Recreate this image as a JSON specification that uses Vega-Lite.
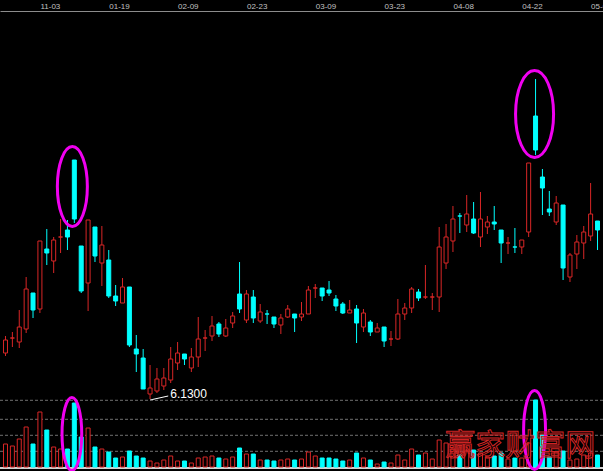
{
  "$schema": "https://vega.github.io/schema/vega-lite/v6.json",
  "width": 603,
  "height": 460,
  "autosize": "none",
  "padding": {"left": 0, "top": 11, "right": 0, "bottom": 0},
  "background": "#000000",
  "config": {
    "view": {"stroke": null},
    "axis": {"grid": false},
    "axisX": {"ticks": false, "tickSize": 0, "domainColor": "#8c8c8c", "domainWidth": 1,
              "labelColor": "#c0c0c0", "labelFont": "Liberation Sans", "labelFontSize": 8,
              "labelAlign": "left", "labelBaseline": "alphabetic", "labelPadding": 2.5,
              "labelOverlap": false, "labelBound": false, "grid": false}
  },
  "datasets": {
    "k": [
      {"i":0,"o":7.05,"h":7.39,"l":6.99,"c":7.31,"v":46,"d":"u"},
      {"i":1,"o":7.35,"h":7.47,"l":7.17,"c":7.35,"v":42,"d":"u"},
      {"i":2,"o":7.27,"h":7.91,"l":7.15,"c":7.57,"v":56,"d":"u"},
      {"i":3,"o":7.53,"h":8.57,"l":7.45,"c":8.33,"v":80,"d":"u"},
      {"i":4,"o":8.25,"h":8.25,"l":7.75,"c":7.91,"v":46,"d":"d"},
      {"i":5,"o":7.93,"h":9.29,"l":7.85,"c":9.29,"v":110,"d":"u"},
      {"i":6,"o":9.13,"h":9.53,"l":8.81,"c":9.05,"v":74,"d":"d"},
      {"i":7,"o":8.89,"h":9.37,"l":8.65,"c":9.31,"v":40,"d":"u"},
      {"i":8,"o":9.37,"h":9.73,"l":9.05,"c":9.37,"v":36,"d":"u"},
      {"i":9,"o":9.51,"h":9.71,"l":9.11,"c":9.37,"v":36,"d":"d"},
      {"i":10,"o":10.91,"h":10.91,"l":9.65,"c":9.73,"v":128,"d":"d"},
      {"i":11,"o":9.19,"h":9.19,"l":8.25,"c":8.29,"v":60,"d":"d"},
      {"i":12,"o":8.45,"h":9.71,"l":7.89,"c":9.71,"v":78,"d":"u"},
      {"i":13,"o":9.57,"h":9.57,"l":8.87,"c":8.99,"v":40,"d":"d"},
      {"i":14,"o":8.85,"h":9.59,"l":8.39,"c":9.21,"v":36,"d":"u"},
      {"i":15,"o":8.91,"h":9.11,"l":8.15,"c":8.19,"v":30,"d":"d"},
      {"i":16,"o":8.19,"h":8.41,"l":7.99,"c":8.09,"v":18,"d":"d"},
      {"i":17,"o":8.05,"h":8.55,"l":8.05,"c":8.37,"v":20,"d":"u"},
      {"i":18,"o":8.37,"h":8.37,"l":7.17,"c":7.21,"v":32,"d":"d"},
      {"i":19,"o":7.13,"h":7.41,"l":6.67,"c":7.03,"v":22,"d":"d"},
      {"i":20,"o":6.95,"h":7.13,"l":6.33,"c":6.33,"v":18,"d":"d"},
      {"i":21,"o":6.23,"h":6.81,"l":6.13,"c":6.35,"v":12,"d":"u"},
      {"i":22,"o":6.29,"h":6.75,"l":6.25,"c":6.53,"v":8,"d":"u"},
      {"i":23,"o":6.39,"h":6.75,"l":6.31,"c":6.55,"v":14,"d":"u"},
      {"i":24,"o":6.51,"h":7.17,"l":6.45,"c":6.93,"v":22,"d":"u"},
      {"i":25,"o":6.85,"h":7.27,"l":6.71,"c":7.05,"v":12,"d":"u"},
      {"i":26,"o":7.03,"h":7.03,"l":6.81,"c":6.93,"v":12,"d":"d"},
      {"i":27,"o":6.75,"h":7.15,"l":6.67,"c":6.97,"v":8,"d":"u"},
      {"i":28,"o":6.97,"h":7.77,"l":6.77,"c":7.33,"v":18,"d":"u"},
      {"i":29,"o":7.35,"h":7.51,"l":7.09,"c":7.35,"v":20,"d":"u"},
      {"i":30,"o":7.39,"h":7.79,"l":7.29,"c":7.59,"v":22,"d":"u"},
      {"i":31,"o":7.63,"h":7.67,"l":7.37,"c":7.43,"v":18,"d":"d"},
      {"i":32,"o":7.39,"h":7.73,"l":7.37,"c":7.55,"v":16,"d":"u"},
      {"i":33,"o":7.65,"h":7.87,"l":7.55,"c":7.79,"v":20,"d":"u"},
      {"i":34,"o":8.23,"h":8.87,"l":7.85,"c":7.93,"v":38,"d":"d"},
      {"i":35,"o":7.71,"h":8.31,"l":7.65,"c":8.23,"v":26,"d":"u"},
      {"i":36,"o":8.17,"h":8.31,"l":7.65,"c":7.75,"v":26,"d":"d"},
      {"i":37,"o":7.69,"h":8.03,"l":7.65,"c":7.87,"v":14,"d":"u"},
      {"i":38,"o":7.83,"h":7.91,"l":7.63,"c":7.83,"v":14,"d":"d"},
      {"i":39,"o":7.77,"h":7.77,"l":7.55,"c":7.63,"v":12,"d":"d"},
      {"i":40,"o":7.61,"h":7.83,"l":7.43,"c":7.75,"v":14,"d":"u"},
      {"i":41,"o":7.77,"h":8.01,"l":7.75,"c":7.93,"v":16,"d":"u"},
      {"i":42,"o":7.83,"h":7.83,"l":7.47,"c":7.75,"v":14,"d":"d"},
      {"i":43,"o":7.77,"h":8.07,"l":7.69,"c":7.83,"v":16,"d":"u"},
      {"i":44,"o":7.83,"h":8.39,"l":7.83,"c":8.31,"v":30,"d":"u"},
      {"i":45,"o":8.35,"h":8.43,"l":8.15,"c":8.35,"v":22,"d":"u"},
      {"i":46,"o":8.35,"h":8.35,"l":8.09,"c":8.19,"v":18,"d":"d"},
      {"i":47,"o":8.31,"h":8.49,"l":8.19,"c":8.25,"v":18,"d":"d"},
      {"i":48,"o":8.13,"h":8.21,"l":7.89,"c":7.99,"v":16,"d":"d"},
      {"i":49,"o":8.03,"h":8.07,"l":7.83,"c":7.85,"v":12,"d":"d"},
      {"i":50,"o":7.85,"h":8.11,"l":7.85,"c":7.91,"v":14,"d":"u"},
      {"i":51,"o":7.93,"h":8.01,"l":7.25,"c":7.65,"v":28,"d":"d"},
      {"i":52,"o":7.57,"h":7.93,"l":7.47,"c":7.85,"v":18,"d":"u"},
      {"i":53,"o":7.67,"h":7.71,"l":7.39,"c":7.47,"v":14,"d":"d"},
      {"i":54,"o":7.47,"h":7.65,"l":7.47,"c":7.55,"v":6,"d":"u"},
      {"i":55,"o":7.57,"h":7.57,"l":7.17,"c":7.29,"v":10,"d":"d"},
      {"i":56,"o":7.33,"h":7.49,"l":7.19,"c":7.33,"v":8,"d":"u"},
      {"i":57,"o":7.33,"h":8.13,"l":7.31,"c":7.83,"v":24,"d":"u"},
      {"i":58,"o":7.83,"h":8.05,"l":7.71,"c":7.95,"v":14,"d":"u"},
      {"i":59,"o":7.95,"h":8.37,"l":7.85,"c":8.33,"v":36,"d":"u"},
      {"i":60,"o":8.27,"h":8.33,"l":8.09,"c":8.15,"v":24,"d":"d"},
      {"i":61,"o":8.17,"h":8.81,"l":8.13,"c":8.17,"v":28,"d":"u"},
      {"i":62,"o":8.17,"h":8.25,"l":7.91,"c":8.17,"v":16,"d":"u"},
      {"i":63,"o":8.17,"h":9.57,"l":7.87,"c":9.17,"v":54,"d":"u"},
      {"i":64,"o":8.85,"h":9.63,"l":8.73,"c":9.37,"v":48,"d":"u"},
      {"i":65,"o":9.29,"h":9.99,"l":9.07,"c":9.73,"v":36,"d":"u"},
      {"i":66,"o":9.79,"h":9.85,"l":9.45,"c":9.79,"v":24,"d":"d"},
      {"i":67,"o":9.61,"h":10.21,"l":9.47,"c":9.83,"v":32,"d":"u"},
      {"i":68,"o":9.73,"h":10.07,"l":9.43,"c":9.45,"v":34,"d":"d"},
      {"i":69,"o":9.37,"h":10.27,"l":9.17,"c":9.73,"v":28,"d":"u"},
      {"i":70,"o":9.57,"h":9.79,"l":9.43,"c":9.67,"v":20,"d":"u"},
      {"i":71,"o":9.67,"h":9.99,"l":9.51,"c":9.63,"v":22,"d":"d"},
      {"i":72,"o":9.51,"h":9.51,"l":8.85,"c":9.25,"v":28,"d":"d"},
      {"i":73,"o":9.25,"h":9.37,"l":9.03,"c":9.25,"v":16,"d":"u"},
      {"i":74,"o":9.17,"h":9.55,"l":9.05,"c":9.17,"v":18,"d":"d"},
      {"i":75,"o":9.17,"h":9.31,"l":9.03,"c":9.31,"v":18,"d":"u"},
      {"i":76,"o":9.47,"h":10.85,"l":9.37,"c":10.85,"v":48,"d":"u"},
      {"i":77,"o":11.79,"h":12.53,"l":11.01,"c":11.11,"v":134,"d":"d"},
      {"i":78,"o":10.57,"h":10.73,"l":9.81,"c":10.35,"v":64,"d":"d"},
      {"i":79,"o":9.93,"h":10.29,"l":9.79,"c":9.87,"v":20,"d":"d"},
      {"i":80,"o":9.67,"h":10.19,"l":9.61,"c":10.05,"v":30,"d":"u"},
      {"i":81,"o":10.01,"h":10.01,"l":8.51,"c":8.75,"v":32,"d":"d"},
      {"i":82,"o":8.57,"h":9.05,"l":8.47,"c":9.01,"v":14,"d":"u"},
      {"i":83,"o":9.03,"h":9.41,"l":8.73,"c":9.27,"v":16,"d":"u"},
      {"i":84,"o":9.25,"h":9.59,"l":8.93,"c":9.47,"v":24,"d":"u"},
      {"i":85,"o":9.39,"h":10.45,"l":9.29,"c":9.83,"v":28,"d":"u"},
      {"i":86,"o":9.69,"h":9.69,"l":9.11,"c":9.51,"v":24,"d":"d"}
    ],
    "grid": [{"g": 31.4}, {"g": 63.4}, {"g": 95.4}, {"g": 133.4}],
    "base": [{"g": -2}],
    "low": [{"i": 21, "i2": 23.64, "p": 6.11, "p2": 6.19}],
    "lowtext": [{"i": 23.93, "p": 6.15, "t": "6.1300"}],
    "ep": [{"i": 9.714, "p": 10.38, "e": 1}, {"i": 76.857, "p": 11.83, "e": 2}],
    "ev": [{"i": 9.643, "v": 66, "e": 3}, {"i": 76.857, "v": 74, "e": 4}],
    "wm": [{"i": 74.79, "v": 42, "t": "赢家财富网"}]
  },
  "resolve": {"scale": {"y": "independent"}},
  "layer": [
    {
      "data": {"name": "k"},
      "mark": {"type": "rule", "strokeWidth": 1},
      "encoding": {
        "x": {"field": "i", "type": "quantitative", "title": null, "scale": {"domain": [-0.0714286, 86.0714286], "nice": false, "zero": false},
              "axis": {"orient": "top", "title": null, "values": [5, 15, 25, 35, 45, 55, 65, 75, 85],
                       "labelExpr": "['11-03','01-19','02-09','02-23','03-09','03-23','04-08','04-22','05-07'][round((datum.value-5)/10)]"}},
        "y": {"field": "l", "type": "quantitative", "scale": {"domain": [4.69, 13.89], "nice": false, "zero": false}, "axis": null},
        "y2": {"field": "h"},
        "stroke": {"condition": {"test": "datum.d == 'u'", "value": "#d92626"}, "value": "#00ffff"}
      }
    },
    {
      "data": {"name": "k"},
      "mark": {"type": "bar", "width": 4, "strokeWidth": 1},
      "encoding": {
        "x": {"field": "i", "type": "quantitative", "title": null, "scale": {"domain": [-0.0714286, 86.0714286], "nice": false, "zero": false},
              "axis": {"orient": "top", "title": null, "values": [5, 15, 25, 35, 45, 55, 65, 75, 85],
                       "labelExpr": "['11-03','01-19','02-09','02-23','03-09','03-23','04-08','04-22','05-07'][round((datum.value-5)/10)]"}},
        "y": {"field": "o", "type": "quantitative", "scale": {"domain": [4.69, 13.89], "nice": false, "zero": false}, "axis": null},
        "y2": {"field": "c"},
        "fill": {"condition": {"test": "datum.d == 'u'", "value": "#000000"}, "value": "#00ffff"},
        "stroke": {"condition": {"test": "datum.d == 'u'", "value": "#d92626"}, "value": "#00ffff"}
      }
    },
    {
      "data": {"name": "low"},
      "mark": {"type": "rule", "color": "#ffffff", "strokeWidth": 1},
      "encoding": {
        "x": {"field": "i", "type": "quantitative", "title": null, "scale": {"domain": [-0.0714286, 86.0714286], "nice": false, "zero": false},
              "axis": {"orient": "top", "title": null, "values": [5, 15, 25, 35, 45, 55, 65, 75, 85],
                       "labelExpr": "['11-03','01-19','02-09','02-23','03-09','03-23','04-08','04-22','05-07'][round((datum.value-5)/10)]"}},
        "x2": {"field": "i2"},
        "y": {"field": "p", "type": "quantitative", "scale": {"domain": [4.69, 13.89], "nice": false, "zero": false}, "axis": null},
        "y2": {"field": "p2"}
      }
    },
    {
      "data": {"name": "lowtext"},
      "mark": {"type": "text", "color": "#ffffff", "font": "Liberation Sans", "fontSize": 12, "align": "left", "baseline": "alphabetic"},
      "encoding": {
        "x": {"field": "i", "type": "quantitative", "title": null, "scale": {"domain": [-0.0714286, 86.0714286], "nice": false, "zero": false},
              "axis": {"orient": "top", "title": null, "values": [5, 15, 25, 35, 45, 55, 65, 75, 85],
                       "labelExpr": "['11-03','01-19','02-09','02-23','03-09','03-23','04-08','04-22','05-07'][round((datum.value-5)/10)]"}},
        "y": {"field": "p", "type": "quantitative", "scale": {"domain": [4.69, 13.89], "nice": false, "zero": false}, "axis": null},
        "text": {"field": "t"}
      }
    },
    {
      "data": {"name": "ep"},
      "transform": [{"filter": "datum.e == 1"}],
      "mark": {"type": "point", "filled": false, "stroke": "#f000f0", "strokeWidth": 3, "opacity": 1, "size": 6400,
               "shape": "M -0.375 0 A 0.375 1 0 1 0 0.375 0 A 0.375 1 0 1 0 -0.375 0 Z"},
      "encoding": {
        "x": {"field": "i", "type": "quantitative", "title": null, "scale": {"domain": [-0.0714286, 86.0714286], "nice": false, "zero": false},
              "axis": {"orient": "top", "title": null, "values": [5, 15, 25, 35, 45, 55, 65, 75, 85],
                       "labelExpr": "['11-03','01-19','02-09','02-23','03-09','03-23','04-08','04-22','05-07'][round((datum.value-5)/10)]"}},
        "y": {"field": "p", "type": "quantitative", "scale": {"domain": [4.69, 13.89], "nice": false, "zero": false}, "axis": null}
      }
    },
    {
      "data": {"name": "ep"},
      "transform": [{"filter": "datum.e == 2"}],
      "mark": {"type": "point", "filled": false, "stroke": "#f000f0", "strokeWidth": 3, "opacity": 1, "size": 7569,
               "shape": "M -0.437 0 A 0.437 1 0 1 0 0.437 0 A 0.437 1 0 1 0 -0.437 0 Z"},
      "encoding": {
        "x": {"field": "i", "type": "quantitative", "title": null, "scale": {"domain": [-0.0714286, 86.0714286], "nice": false, "zero": false},
              "axis": {"orient": "top", "title": null, "values": [5, 15, 25, 35, 45, 55, 65, 75, 85],
                       "labelExpr": "['11-03','01-19','02-09','02-23','03-09','03-23','04-08','04-22','05-07'][round((datum.value-5)/10)]"}},
        "y": {"field": "p", "type": "quantitative", "scale": {"domain": [4.69, 13.89], "nice": false, "zero": false}, "axis": null}
      }
    },
    {
      "data": {"name": "grid"},
      "mark": {"type": "rule", "color": "#707070", "strokeWidth": 1, "strokeDash": [3, 2]},
      "encoding": {
        "y": {"field": "g", "type": "quantitative", "scale": {"domain": [-8, 912], "nice": false, "zero": false}, "axis": null}
      }
    },
    {
      "data": {"name": "base"},
      "mark": {"type": "rule", "color": "#d0d0d0", "strokeWidth": 2},
      "encoding": {
        "y": {"field": "g", "type": "quantitative", "scale": {"domain": [-8, 912], "nice": false, "zero": false}, "axis": null}
      }
    },
    {
      "data": {"name": "k"},
      "mark": {"type": "bar", "width": 4, "strokeWidth": 1},
      "encoding": {
        "x": {"field": "i", "type": "quantitative", "title": null, "scale": {"domain": [-0.0714286, 86.0714286], "nice": false, "zero": false},
              "axis": {"orient": "top", "title": null, "values": [5, 15, 25, 35, 45, 55, 65, 75, 85],
                       "labelExpr": "['11-03','01-19','02-09','02-23','03-09','03-23','04-08','04-22','05-07'][round((datum.value-5)/10)]"}},
        "y": {"field": "v", "type": "quantitative", "scale": {"domain": [-8, 912], "nice": false, "zero": false}, "axis": null},
        "y2": {"datum": 0},
        "fill": {"condition": {"test": "datum.d == 'u'", "value": "#000000"}, "value": "#00ffff"},
        "stroke": {"condition": {"test": "datum.d == 'u'", "value": "#d92626"}, "value": "#00ffff"}
      }
    },
    {
      "data": {"name": "ev"},
      "transform": [{"filter": "datum.e == 3"}],
      "mark": {"type": "point", "filled": false, "stroke": "#f000f0", "strokeWidth": 3, "opacity": 1, "size": 5329,
               "shape": "M -0.27 0 A 0.27 1 0 1 0 0.27 0 A 0.27 1 0 1 0 -0.27 0 Z"},
      "encoding": {
        "x": {"field": "i", "type": "quantitative", "title": null, "scale": {"domain": [-0.0714286, 86.0714286], "nice": false, "zero": false},
              "axis": {"orient": "top", "title": null, "values": [5, 15, 25, 35, 45, 55, 65, 75, 85],
                       "labelExpr": "['11-03','01-19','02-09','02-23','03-09','03-23','04-08','04-22','05-07'][round((datum.value-5)/10)]"}},
        "y": {"field": "v", "type": "quantitative", "scale": {"domain": [-8, 912], "nice": false, "zero": false}, "axis": null}
      }
    },
    {
      "data": {"name": "ev"},
      "transform": [{"filter": "datum.e == 4"}],
      "mark": {"type": "point", "filled": false, "stroke": "#f000f0", "strokeWidth": 3, "opacity": 1, "size": 6241,
               "shape": "M -0.278 0 A 0.278 1 0 1 0 0.278 0 A 0.278 1 0 1 0 -0.278 0 Z"},
      "encoding": {
        "x": {"field": "i", "type": "quantitative", "title": null, "scale": {"domain": [-0.0714286, 86.0714286], "nice": false, "zero": false},
              "axis": {"orient": "top", "title": null, "values": [5, 15, 25, 35, 45, 55, 65, 75, 85],
                       "labelExpr": "['11-03','01-19','02-09','02-23','03-09','03-23','04-08','04-22','05-07'][round((datum.value-5)/10)]"}},
        "y": {"field": "v", "type": "quantitative", "scale": {"domain": [-8, 912], "nice": false, "zero": false}, "axis": null}
      }
    },
    {
      "data": {"name": "wm"},
      "mark": {"type": "text", "font": "Noto Sans CJK SC", "fontSize": 30, "align": "center", "baseline": "middle",
               "fill": "#000000", "fillOpacity": 0, "stroke": "#d02424", "strokeWidth": 1},
      "encoding": {
        "x": {"field": "i", "type": "quantitative", "title": null, "scale": {"domain": [-0.0714286, 86.0714286], "nice": false, "zero": false},
              "axis": {"orient": "top", "title": null, "values": [5, 15, 25, 35, 45, 55, 65, 75, 85],
                       "labelExpr": "['11-03','01-19','02-09','02-23','03-09','03-23','04-08','04-22','05-07'][round((datum.value-5)/10)]"}},
        "y": {"field": "v", "type": "quantitative", "scale": {"domain": [-8, 912], "nice": false, "zero": false}, "axis": null},
        "text": {"field": "t"}
      }
    }
  ]
}
